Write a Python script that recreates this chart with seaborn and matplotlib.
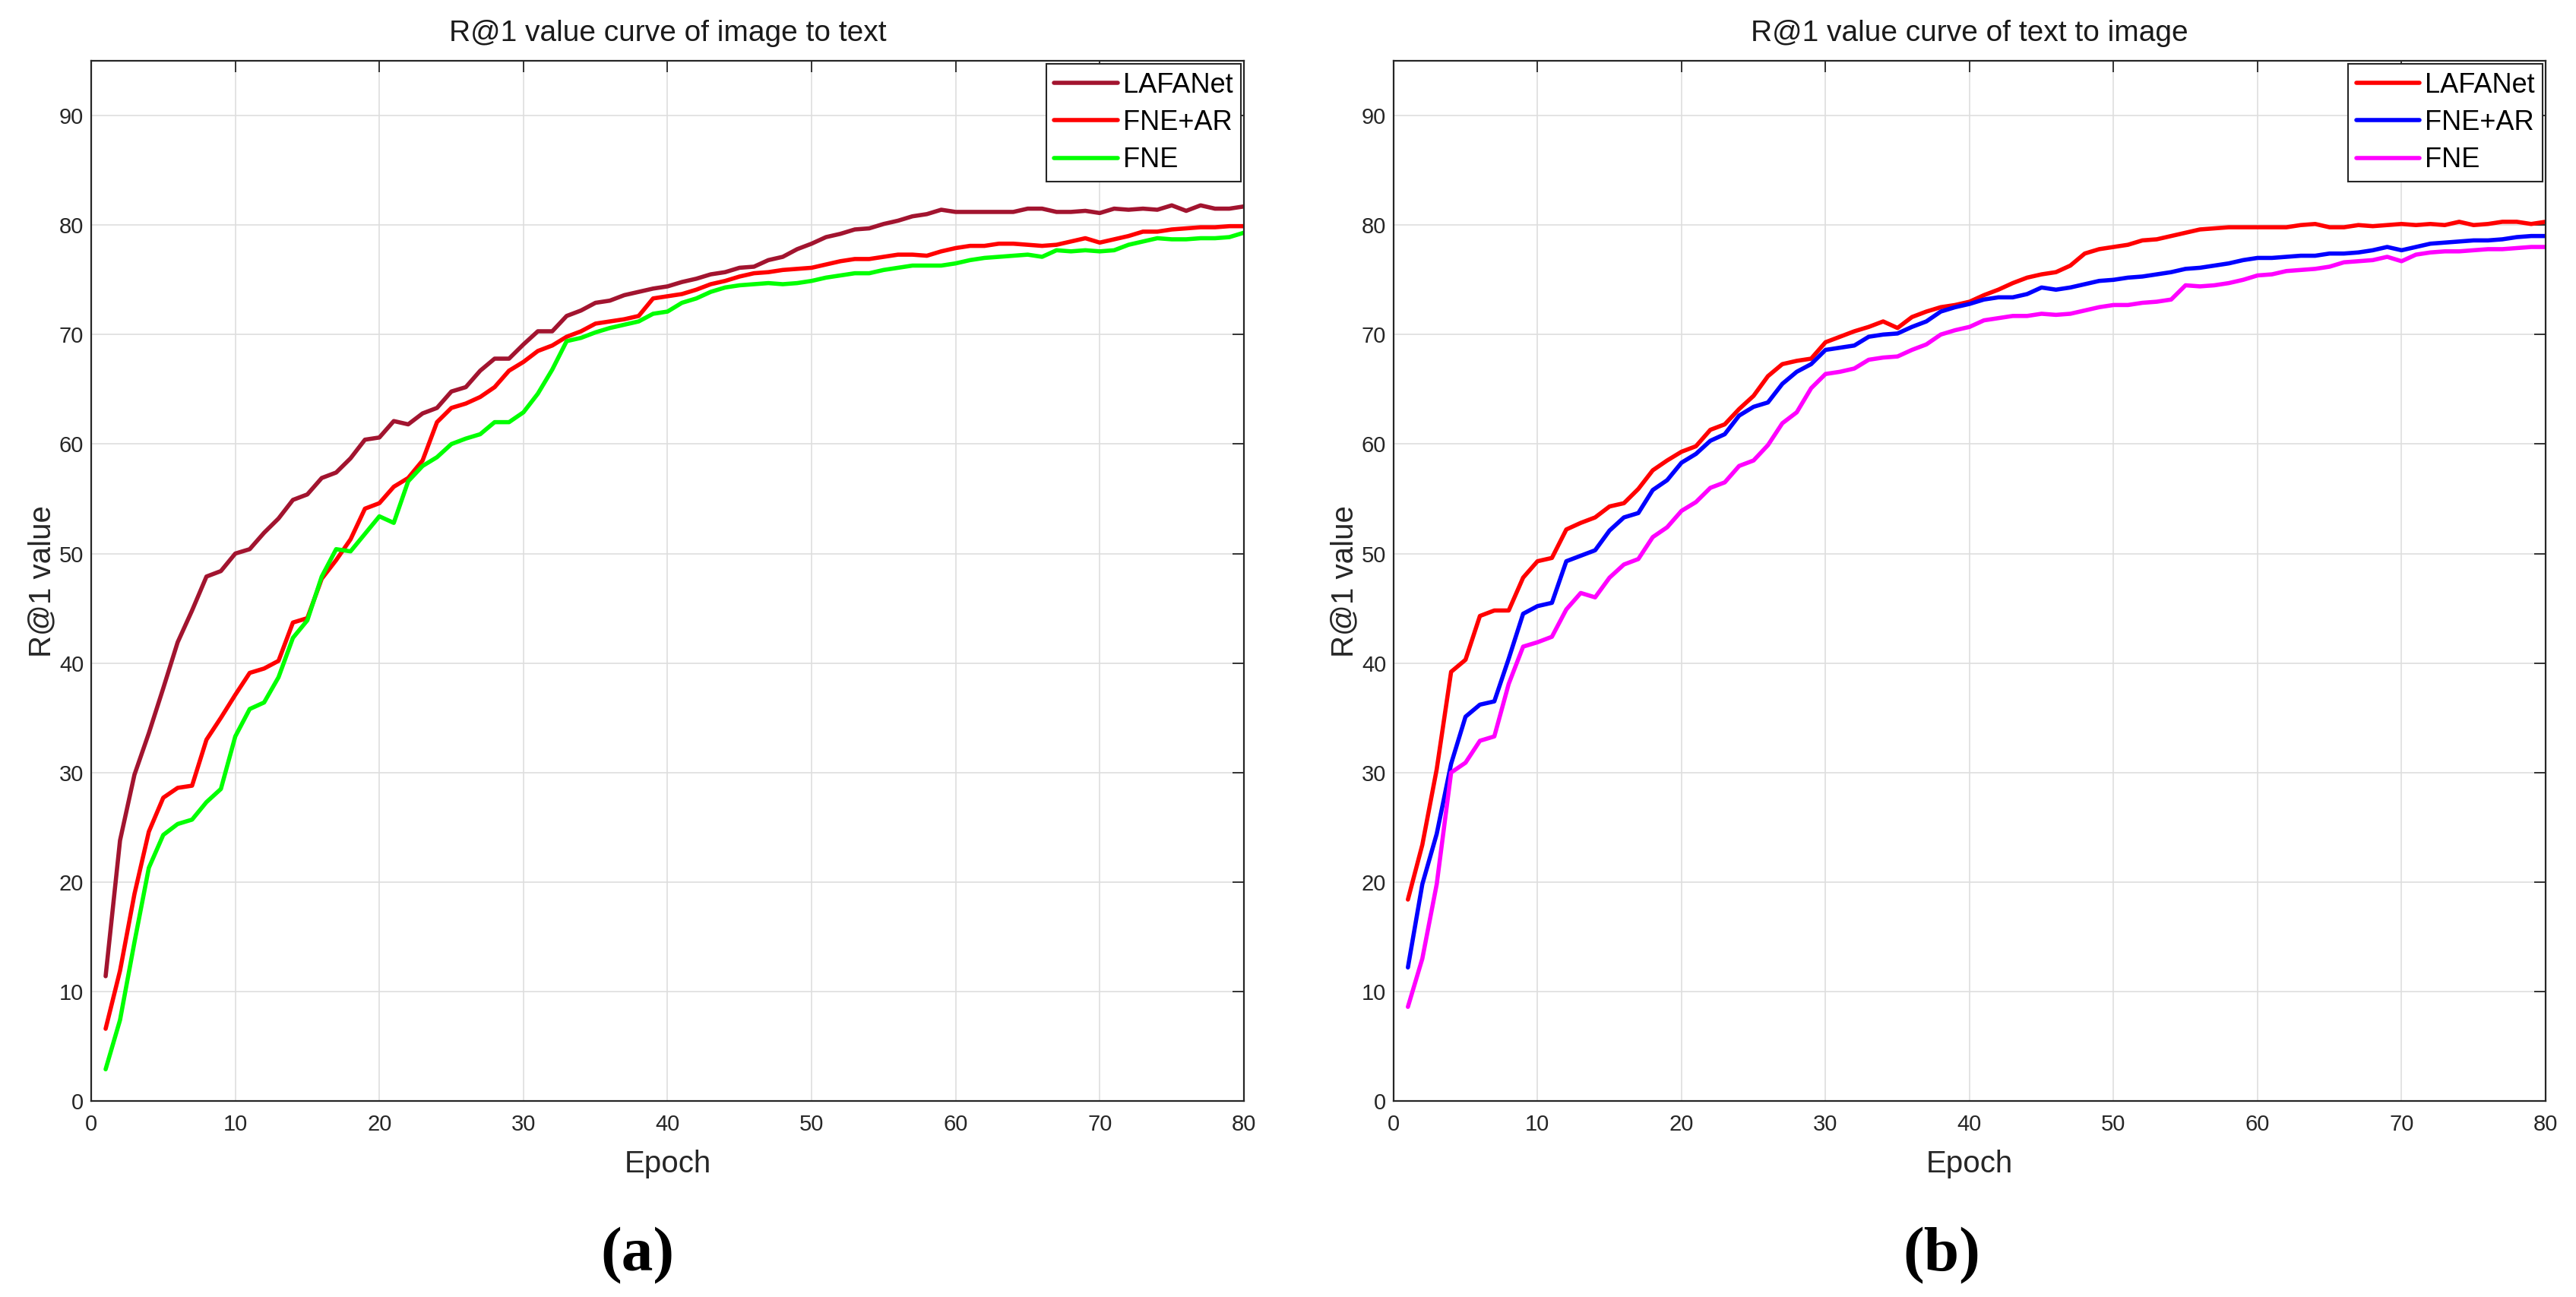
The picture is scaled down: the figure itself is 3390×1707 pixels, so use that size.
import matplotlib
matplotlib.use("Agg")
import matplotlib.pyplot as plt
import seaborn as sns
import numpy as np
import pandas as pd

# Epoch axis
epochs = np.arange(1, 81)

# (a) image to text
a_names = ["LAFANet", "FNE+AR", "FNE"]
a_colors = ["#A2142F", "#FF0000", "#00FF00"]
a_lafanet = [11.4, 23.8, 29.8, 33.6, 37.7, 41.9, 44.8, 47.9, 48.4, 50.0,
             50.4, 51.9, 53.2, 54.9, 55.4, 56.9, 57.4, 58.7, 60.4, 60.6,
             62.1, 61.8, 62.8, 63.3, 64.8, 65.2, 66.7, 67.8, 67.8, 69.1,
             70.3, 70.3, 71.7, 72.2, 72.9, 73.1, 73.6, 73.9, 74.2, 74.4,
             74.8, 75.1, 75.5, 75.7, 76.1, 76.2, 76.8, 77.1, 77.8, 78.3,
             78.9, 79.2, 79.6, 79.7, 80.1, 80.4, 80.8, 81.0, 81.4, 81.2,
             81.2, 81.2, 81.2, 81.2, 81.5, 81.5, 81.2, 81.2, 81.3, 81.1,
             81.5, 81.4, 81.5, 81.4, 81.8, 81.3, 81.8, 81.5, 81.5, 81.7]
a_fne_ar = [6.6, 11.9, 18.9, 24.6, 27.7, 28.6, 28.8, 33.0, 35.0, 37.1,
            39.1, 39.5, 40.2, 43.7, 44.1, 47.7, 49.4, 51.3, 54.1, 54.6,
            56.1, 56.9, 58.5, 62.0, 63.3, 63.7, 64.3, 65.2, 66.7, 67.5,
            68.5, 69.0, 69.8, 70.3, 71.0, 71.2, 71.4, 71.7, 73.3, 73.5,
            73.7, 74.1, 74.6, 74.9, 75.3, 75.6, 75.7, 75.9, 76.0, 76.1,
            76.4, 76.7, 76.9, 76.9, 77.1, 77.3, 77.3, 77.2, 77.6, 77.9,
            78.1, 78.1, 78.3, 78.3, 78.2, 78.1, 78.2, 78.5, 78.8, 78.4,
            78.7, 79.0, 79.4, 79.4, 79.6, 79.7, 79.8, 79.8, 79.9, 79.9]
a_fne = [2.9, 7.4, 14.5, 21.3, 24.3, 25.3, 25.7, 27.3, 28.5, 33.3,
         35.8, 36.4, 38.7, 42.3, 43.9, 47.9, 50.4, 50.2, 51.8, 53.4,
         52.8, 56.6, 58.0, 58.8, 60.0, 60.5, 60.9, 62.0, 62.0, 62.9,
         64.6, 66.8, 69.4, 69.7, 70.2, 70.6, 70.9, 71.2, 71.9, 72.1,
         72.9, 73.3, 73.9, 74.3, 74.5, 74.6, 74.7, 74.6, 74.7, 74.9,
         75.2, 75.4, 75.6, 75.6, 75.9, 76.1, 76.3, 76.3, 76.3, 76.5,
         76.8, 77.0, 77.1, 77.2, 77.3, 77.1, 77.7, 77.6, 77.7, 77.6,
         77.7, 78.2, 78.5, 78.8, 78.7, 78.7, 78.8, 78.8, 78.9, 79.3]

# (b) text to image
b_names = ["LAFANet", "FNE+AR", "FNE"]
b_colors = ["#FF0000", "#0000FF", "#FF00FF"]
b_lafanet = [18.4, 23.4, 30.3, 39.2, 40.3, 44.3, 44.8, 44.8, 47.8, 49.3,
             49.6, 52.2, 52.8, 53.3, 54.3, 54.6, 55.9, 57.6, 58.5, 59.3,
             59.8, 61.3, 61.8, 63.2, 64.4, 66.2, 67.3, 67.6, 67.8, 69.3,
             69.8, 70.3, 70.7, 71.2, 70.6, 71.6, 72.1, 72.5, 72.7, 73.0,
             73.6, 74.1, 74.7, 75.2, 75.5, 75.7, 76.3, 77.4, 77.8, 78.0,
             78.2, 78.6, 78.7, 79.0, 79.3, 79.6, 79.7, 79.8, 79.8, 79.8,
             79.8, 79.8, 80.0, 80.1, 79.8, 79.8, 80.0, 79.9, 80.0, 80.1,
             80.0, 80.1, 80.0, 80.3, 80.0, 80.1, 80.3, 80.3, 80.1, 80.3]
b_fne_ar = [12.2, 19.8, 24.4, 30.8, 35.1, 36.2, 36.5, 40.4, 44.5, 45.2,
            45.5, 49.3, 49.8, 50.3, 52.1, 53.3, 53.7, 55.8, 56.7, 58.3,
            59.1, 60.3, 60.9, 62.6, 63.4, 63.8, 65.5, 66.6, 67.3, 68.6,
            68.8, 69.0, 69.8, 70.0, 70.1, 70.7, 71.2, 72.1, 72.5, 72.8,
            73.2, 73.4, 73.4, 73.7, 74.3, 74.1, 74.3, 74.6, 74.9, 75.0,
            75.2, 75.3, 75.5, 75.7, 76.0, 76.1, 76.3, 76.5, 76.8, 77.0,
            77.0, 77.1, 77.2, 77.2, 77.4, 77.4, 77.5, 77.7, 78.0, 77.7,
            78.0, 78.3, 78.4, 78.5, 78.6, 78.6, 78.7, 78.9, 79.0, 79.0]
b_fne = [8.6, 13.0, 19.8, 30.0, 30.9, 32.9, 33.3, 38.1, 41.5, 41.9,
         42.4, 44.9, 46.4, 46.0, 47.8, 49.0, 49.5, 51.5, 52.4, 53.9,
         54.7, 56.0, 56.5, 58.0, 58.5, 59.9, 61.9, 62.9, 65.1, 66.4,
         66.6, 66.9, 67.7, 67.9, 68.0, 68.6, 69.1, 70.0, 70.4, 70.7,
         71.3, 71.5, 71.7, 71.7, 71.9, 71.8, 71.9, 72.2, 72.5, 72.7,
         72.7, 72.9, 73.0, 73.2, 74.5, 74.4, 74.5, 74.7, 75.0, 75.4,
         75.5, 75.8, 75.9, 76.0, 76.2, 76.6, 76.7, 76.8, 77.1, 76.7,
         77.3, 77.5, 77.6, 77.6, 77.7, 77.8, 77.8, 77.9, 78.0, 78.0]

sns.set_theme(style="white")
plt.rcParams['font.family'] = ['Liberation Sans', 'DejaVu Sans']
dark = "#262626"


def draw_panel(ax, series, names, colors, title):
  df = pd.DataFrame({
    "Epoch": np.tile(epochs, len(names)),
    "value": np.concatenate(series),
    "model": np.repeat(names, len(epochs)),
  })
  sns.lineplot(data=df, x="Epoch", y="value", hue="model", hue_order=names,
               palette=dict(zip(names, colors)), linewidth=4, ax=ax,
               legend=False)

  ax.set_xlim(0, 80)
  ax.set_ylim(0, 95)
  ax.set_xticks(range(0, 81, 10))
  ax.set_yticks(range(0, 91, 10))
  ax.grid(True, color="#dedede", linewidth=1.2)
  for s in ax.spines.values():
    s.set_visible(True)
    s.set_color(dark)
    s.set_linewidth(1.6)
  ax.tick_params(direction="in", length=11, width=1.3, top=True, right=True,
                 colors=dark, labelsize=21)
  ax.tick_params(axis="x", pad=12)
  ax.tick_params(axis="y", pad=7)

  ax.set_title(title, fontsize=28, pad=19, color="#1a1a1a")
  ax.set_xlabel("Epoch", fontsize=29, labelpad=14, color=dark)
  ax.set_ylabel("R@1 value", fontsize=29, color=dark)
  ax.yaxis.set_label_coords(-0.03, 0.5)

  leg = ax.legend(ax.lines[:len(names)], names, loc="upper right",
                  bbox_to_anchor=(1, 1), borderaxespad=0.1, fontsize=26,
                  fancybox=False, framealpha=1, edgecolor=dark,
                  handlelength=2.3, handletextpad=0.2, labelspacing=0.4,
                  borderpad=0.3, labelcolor="black")
  leg.get_frame().set_linewidth(1.5)


fig = plt.figure(figsize=(33.91, 17.07), dpi=100)
ax1 = fig.add_axes([0.0354, 0.1511, 0.4473, 0.8020])
ax2 = fig.add_axes([0.5408, 0.1511, 0.4471, 0.8020])

draw_panel(ax1, [a_lafanet, a_fne_ar, a_fne], a_names, a_colors,
           "R@1 value curve of image to text")
draw_panel(ax2, [b_lafanet, b_fne_ar, b_fne], b_names, b_colors,
           "R@1 value curve of text to image")

fig.text(0.2474, 0.032, "(a)", ha="center", va="center", fontsize=60,
         fontweight="bold", family="Liberation Serif", color="black")
fig.text(0.7535, 0.032, "(b)", ha="center", va="center", fontsize=60,
         fontweight="bold", family="Liberation Serif", color="black")

fig.savefig("out.png", dpi=100, facecolor="white")
